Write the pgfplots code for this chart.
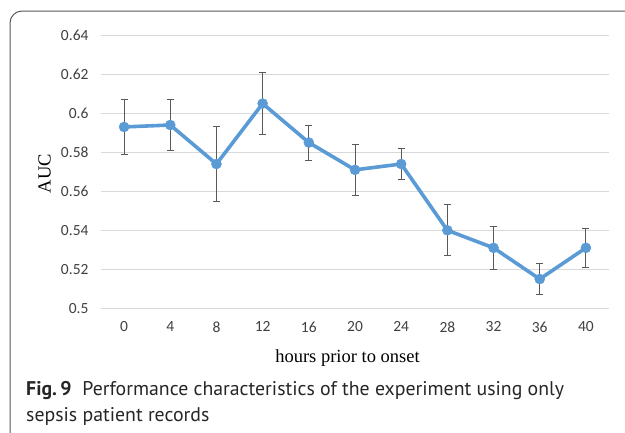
\documentclass[border=0pt]{standalone}
\usepackage{fontspec}
\usepackage{pgfplots}
\pgfplotsset{compat=1.18}
\newfontfamily\tickfont{Carlito}
\newfontfamily\labfont{Liberation Serif}
\newfontfamily\capfont{PT Sans}
\definecolor{lineblue}{HTML}{5B9BD5}
\definecolor{gridgray}{HTML}{D9D9D9}
\definecolor{errgray}{HTML}{595959}
\definecolor{tickgray}{HTML}{404040}

\begin{document}
\begin{tikzpicture}
\useasboundingbox (0,0) rectangle (625pt,-432pt);
\draw[black!65,line width=1pt,rounded corners=12pt] (10pt,-470pt) -- (10pt,-11pt) -- (670pt,-11pt);

\begin{axis}[at={(101pt,-308.3pt)},anchor=south west,
  scale only axis,width=508pt,height=273pt,
  xmin=-2,xmax=42,ymin=0.5,ymax=0.64,
  xtick={0,4,8,12,16,20,24,28,32,36,40},
  ytick={0.5,0.52,0.54,0.56,0.58,0.6,0.62,0.64},
  yticklabels={0.5,0.52,0.54,0.56,0.58,0.6,0.62,0.64},
  axis line style={draw=none},major tick length=0pt,
  ymajorgrids=true,grid style={gridgray,line width=1.3pt},
  /pgf/number format/assume math mode=true,
  ticklabel style={font=\tickfont\fontsize{15.5}{18}\selectfont,text=tickgray},
  yticklabel style={xshift=-9pt},
  xticklabel style={yshift=-10pt},
  clip=false]
% error bars first, so the line sits on top
\addplot[only marks,mark=none,forget plot,
  error bars/.cd,y dir=both,y explicit,
  error bar style={draw=errgray,line width=1pt},
  error mark options={draw=errgray,rotate=90,mark size=3.5pt,line width=1pt}]
coordinates {
(0,0.593) +- (0,0.014)
(4,0.594) +- (0,0.013)
(8,0.574) +- (0,0.019)
(12,0.605) +- (0,0.016)
(16,0.585) +- (0,0.009)
(20,0.571) +- (0,0.013)
(24,0.574) +- (0,0.008)
(28,0.540) +- (0,0.013)
(32,0.531) +- (0,0.011)
(36,0.515) +- (0,0.008)
(40,0.531) +- (0,0.010)
};
\addplot[lineblue,line width=3.6pt,mark=*,mark size=5pt,
  mark options={fill=lineblue,draw=lineblue,line width=0.5pt}]
coordinates {
(0,0.593) (4,0.594) (8,0.574) (12,0.605) (16,0.585) (20,0.571)
(24,0.574) (28,0.540) (32,0.531) (36,0.515) (40,0.531)
};
\end{axis}

\node[rotate=90,anchor=base,font=\labfont\fontsize{18.5}{22}\selectfont] at (50.5pt,-173.5pt) {AUC};
\node[anchor=base,font=\labfont\fontsize{18.5}{22}\selectfont] at (347.5pt,-362pt) {hours prior to onset};

\node[anchor=base west,inner sep=0pt,font=\capfont\fontsize{19.8}{24}\selectfont,text=black!85] at (26pt,-395pt)
  {\textbf{Fig.\,9}\hspace{0.55em}Performance characteristics of the experiment using only};
\node[anchor=base west,inner sep=0pt,font=\capfont\fontsize{19.8}{24}\selectfont,text=black!85] at (26pt,-421pt)
  {sepsis patient records};
\end{tikzpicture}
\end{document}
